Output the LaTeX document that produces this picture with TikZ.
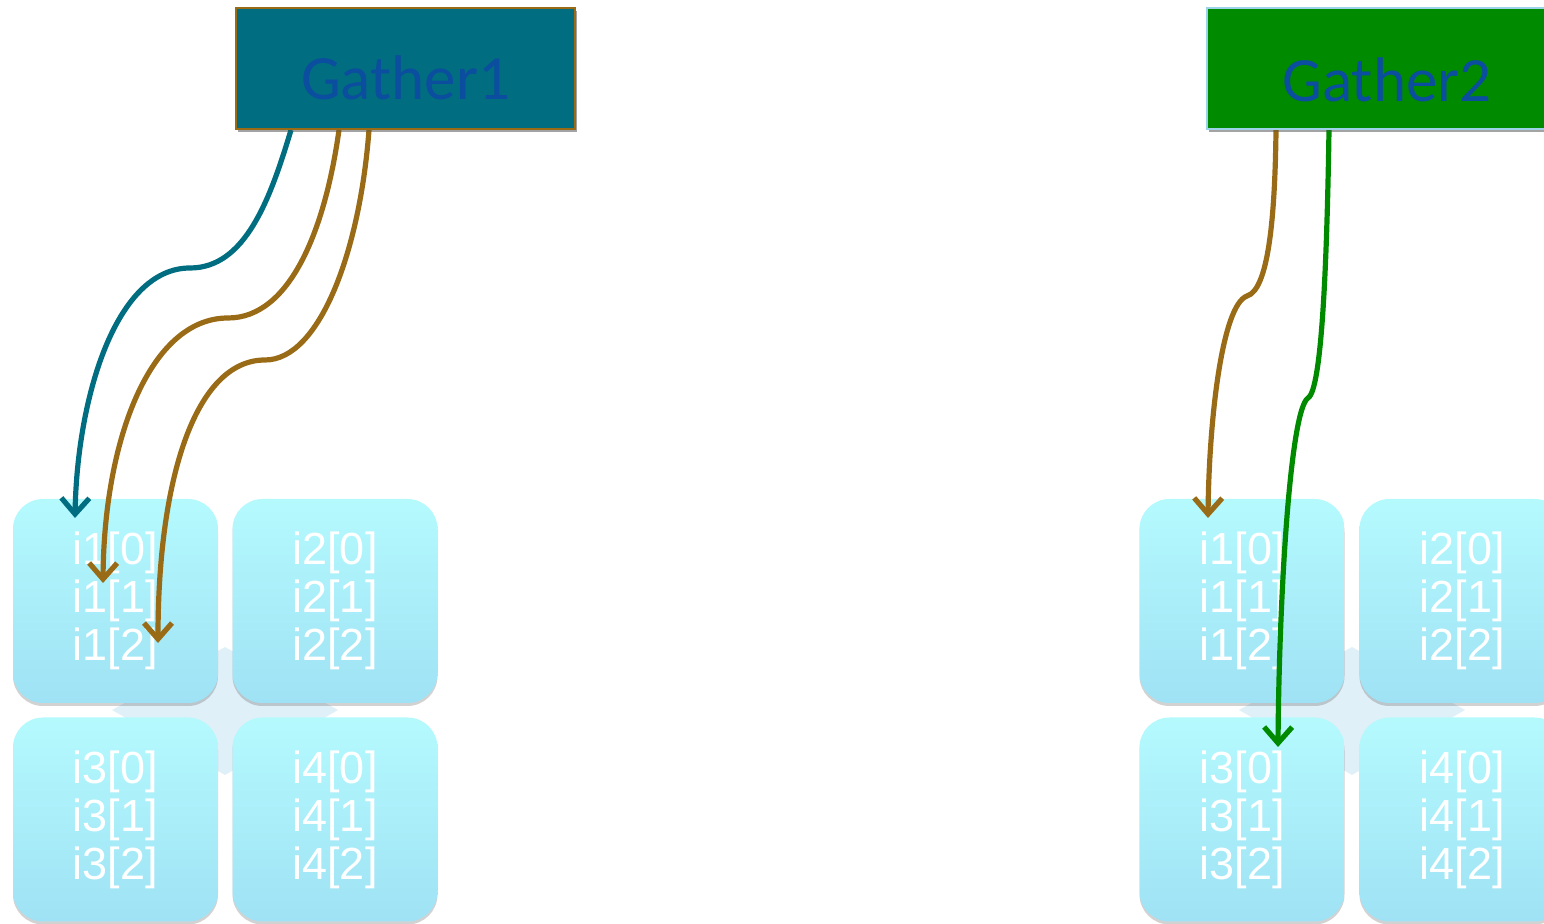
\documentclass[tikz,border=0pt]{standalone}
\usepackage{fontspec}
\newfontfamily\arialf{Liberation Sans}
\newfontfamily\calf{Carlito}
\usetikzlibrary{shadows,arrows.meta,calc}
\definecolor{tealc}{HTML}{006E80}
\definecolor{brownc}{HTML}{9A6B16}
\definecolor{greenc}{HTML}{008A00}
\definecolor{gtext}{HTML}{0B4D9E}
\definecolor{celltop}{HTML}{B4FAFD}
\definecolor{cellbot}{HTML}{9FE2F5}
\definecolor{starc}{HTML}{E0F0F8}
\definecolor{g2border}{HTML}{9CD3E8}
\begin{document}
\begin{tikzpicture}[x=0.5pt,y=-0.5pt,
  cell/.style={rounded corners=15pt, minimum width=102.5pt, minimum height=102pt,
    top color=celltop, bottom color=cellbot, draw=none, inner sep=0pt,
    text=white, align=center, font=\arialf\fontsize{22.5}{24}\selectfont,
    drop shadow={shadow xshift=0pt, shadow yshift=-1.5pt, opacity=0.25, fill=black!70}},
  gbox/.style={minimum height=60.5pt, inner sep=0pt, line width=1pt,
    font=\calf\fontsize{31.5}{31.5}\selectfont, text=gtext,
    drop shadow={shadow xshift=1pt, shadow yshift=-1.5pt, opacity=0.3, fill=black!70}},
  conn/.style={line width=2.6pt, -{Straight Barb[length=8pt,width=14pt]}},
  star/.style={fill=starc, draw=none}]
\clip (0,0) rectangle (1544,924);
% background stars
\fill[star] (112,710) -- (225,647) -- (338,710) -- (225,775) -- cycle;
\fill[star] (1239,710) -- (1352,647) -- (1465,710) -- (1352,775) -- cycle;
% left grid
\node[cell] (a1) at (115.5,601) {i1[0]\\i1[1]\\i1[2]};
\node[cell] (a2) at (335,601) {i2[0]\\i2[1]\\i2[2]};
\node[cell] (a3) at (115.5,819.5) {i3[0]\\i3[1]\\i3[2]};
\node[cell] (a4) at (335,819.5) {i4[0]\\i4[1]\\i4[2]};
% right grid
\node[cell] (b1) at (1242,601) {i1[0]\\i1[1]\\i1[2]};
\node[cell] (b2) at (1462,601) {i2[0]\\i2[1]\\i2[2]};
\node[cell] (b3) at (1242,819.5) {i3[0]\\i3[1]\\i3[2]};
\node[cell] (b4) at (1462,819.5) {i4[0]\\i4[1]\\i4[2]};
% gather boxes
\node[gbox, fill=tealc, draw=brownc, minimum width=169.5pt] (g1) at (405.5,68.5)
  {\smash{\raisebox{-15.5pt}{Gather1}}};
\node[gbox, fill=greenc, draw=g2border, minimum width=180pt] (g2) at (1387,68.5)
  {\smash{\raisebox{-16.5pt}{Gather2}}};
% connector endpoints
\coordinate (s1) at ($(g1.south west)+(56,0)$);
\coordinate (s2) at ($(g1.south west)+(104,0)$);
\coordinate (s3) at ($(g1.south west)+(134,0)$);
\coordinate (s4) at ($(g2.south west)+(70,0)$);
\coordinate (s5) at ($(g2.south west)+(123,0)$);
\coordinate (e1) at (75,518);
\coordinate (e2) at (103,583);
\coordinate (e3) at (158,643);
\coordinate (e4) at (1208,518);
\coordinate (e5) at (1278,747);
% connectors
\draw[conn, tealc] (s1) .. controls (270,200) and (245,268) .. (190,268)
  .. controls (115,268) and (77,400) .. (e1);
\draw[conn, brownc] (s2) .. controls (325,230) and (290,318) .. (228,318)
  .. controls (150,318) and (104,440) .. (e2);
\draw[conn, brownc] (s3) .. controls (360,250) and (320,360) .. (265,360)
  .. controls (195,360) and (158,480) .. (e3);
\draw[conn, brownc] (s4) .. controls (1275,220) and (1268,290) .. (1247,296)
  .. controls (1222,305) and (1209,420) .. (e4);
\draw[conn, greenc] (s5) .. controls (1327,260) and (1322,390) .. (1308,398)
  .. controls (1290,410) and (1279,600) .. (e5);
% redraw gather boxes on top of connector starts
\node[gbox, fill=tealc, draw=brownc, minimum width=169.5pt] at (g1) {\smash{\raisebox{-15.5pt}{Gather1}}};
\node[gbox, fill=greenc, draw=g2border, minimum width=180pt] at (g2) {\smash{\raisebox{-16.5pt}{Gather2}}};
\end{tikzpicture}
\end{document}
